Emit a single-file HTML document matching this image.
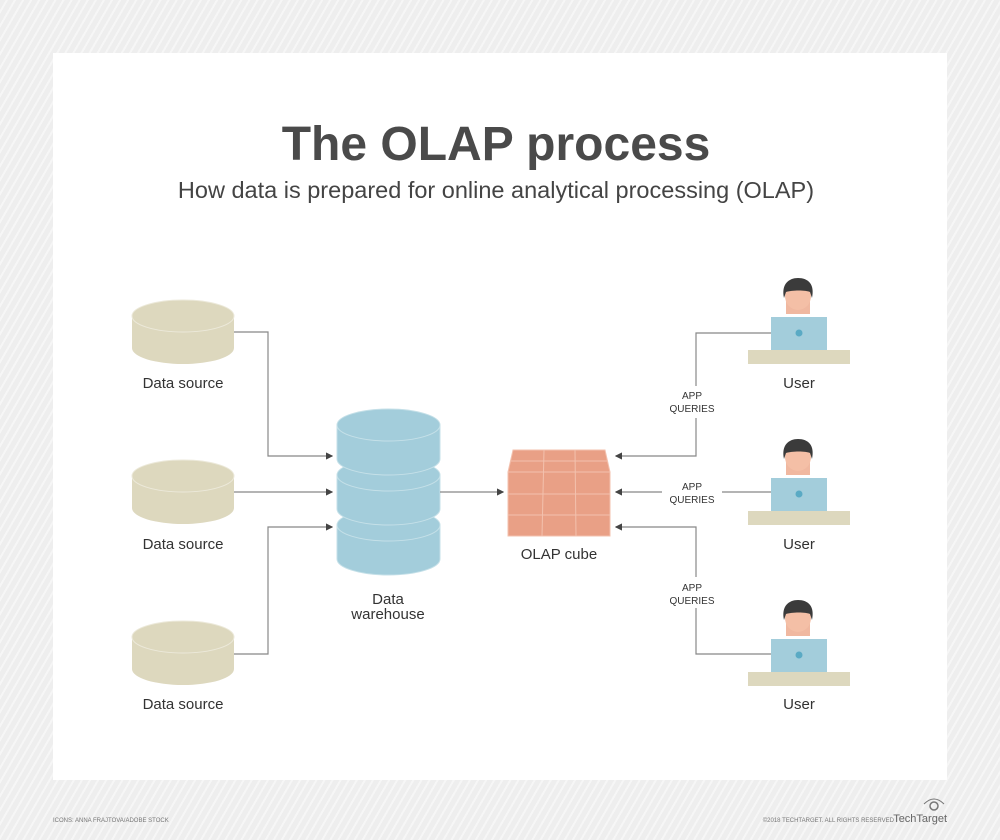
<!DOCTYPE html>
<html><head><meta charset="utf-8"><style>
html,body{margin:0;padding:0;}
body{width:1000px;height:840px;position:relative;overflow:hidden;font-family:"Liberation Sans",sans-serif;
background:#eeeeee repeating-linear-gradient(-60deg,#eeeeee 0,#eeeeee 5px,#f6f6f6 5px,#f6f6f6 7px);}
</style></head><body>
<svg width="1000" height="840" style="position:absolute;left:0;top:0" font-family="Liberation Sans, sans-serif">
<rect x="53" y="53" width="894" height="727" fill="#fff"/>
<text x="496" y="160" text-anchor="middle" font-size="48" font-weight="bold" fill="#4a4a4a">The OLAP process</text>
<text x="496" y="198" text-anchor="middle" font-size="23.5" fill="#444">How data is prepared for online analytical processing (OLAP)</text>
<defs>
<g id="src">
<path d="M132,316 v32 a51,16 0 0 0 102,0 v-32z" fill="#ddd8be"/>
<ellipse cx="183" cy="316" rx="51" ry="16" fill="#ddd8be" stroke="#ece9da" stroke-width="1"/>
</g>
<g id="tier">
<path d="M337,425 v34 a51.5,16 0 0 0 103,0 v-34z" fill="#a3cddb" stroke="#c5e0e8" stroke-width="1"/>
<ellipse cx="388.5" cy="425" rx="51.5" ry="16" fill="#a3cddb" stroke="#c5e0e8" stroke-width="1"/>
</g>
<g id="user">
<path d="M786,300 h24 v14 h-24z" fill="#f0b8a0"/>
<ellipse cx="798" cy="296" rx="13" ry="14" fill="#f4bfa6"/>
<path d="M784,298 c-3,-14 5,-20 14,-20 c10,0 17,6 14,20 l-2,-6 c-4,-2 -18,-2 -24,0z" fill="#3b3b3b"/>
<rect x="771" y="317" width="56" height="34" fill="#a3cddb"/>
<circle cx="799" cy="333" r="3.5" fill="#5aaac4"/>
<rect x="748" y="350" width="102" height="14" fill="#ddd8be"/>
</g>
<marker id="ar" markerWidth="6" markerHeight="6" refX="5" refY="3" orient="auto"><path d="M0,0 L6,3 L0,6z" fill="#444"/></marker>
</defs>
<use href="#src"/><use href="#src" y="160"/><use href="#src" y="321"/>
<g font-size="15" fill="#333" text-anchor="middle">
<text x="183" y="388">Data source</text><text x="183" y="549">Data source</text><text x="183" y="709">Data source</text>
<text x="388" y="604">Data</text><text x="388" y="619">warehouse</text>
<text x="559" y="559">OLAP cube</text>
<text x="799" y="388">User</text><text x="799" y="549">User</text><text x="799" y="709">User</text>
</g>
<use href="#tier" y="100"/><use href="#tier" y="50"/><use href="#tier"/>
<!-- cube -->
<path d="M513,450 h92 l5,22 h-102z" fill="#e9a086" stroke="#f3c1ae" stroke-width="1"/>
<rect x="508" y="472" width="102" height="64" fill="#e9a086" stroke="#f3c1ae" stroke-width="1"/>
<g stroke="#f3c1ae" stroke-width="1">
<line x1="510" y1="461" x2="608" y2="461"/><line x1="544" y1="450" x2="542" y2="536"/><line x1="575" y1="450" x2="576" y2="536"/>
<line x1="508" y1="494" x2="610" y2="494"/><line x1="508" y1="515" x2="610" y2="515"/>
</g>
<use href="#user"/><use href="#user" y="161"/><use href="#user" y="322"/>
<g stroke="#888" stroke-width="1.2" fill="none">
<path d="M234,332 H268 V456 H332" marker-end="url(#ar)"/>
<path d="M234,492 H332" marker-end="url(#ar)"/>
<path d="M234,654 H268 V527 H332" marker-end="url(#ar)"/>
<path d="M440,492 H503" marker-end="url(#ar)"/>
<path d="M771,333 H696 V386"/>
<path d="M696,418 V456 H616" marker-end="url(#ar)"/>
<path d="M771,492 H722"/>
<path d="M662,492 H616" marker-end="url(#ar)"/>
<path d="M771,654 H696 V608"/>
<path d="M696,577 V527 H616" marker-end="url(#ar)"/>
</g>
<g font-size="10" fill="#333" text-anchor="middle">
<text x="692" y="399">APP</text><text x="692" y="412">QUERIES</text>
<text x="692" y="490">APP</text><text x="692" y="503">QUERIES</text>
<text x="692" y="591">APP</text><text x="692" y="604">QUERIES</text>
</g>
<text x="53" y="822" font-size="6" fill="#777">ICONS: ANNA FRAJTOVA/ADOBE STOCK</text>
<text x="894" y="822" font-size="6" fill="#777" text-anchor="end">©2018 TECHTARGET. ALL RIGHTS RESERVED</text>
<text x="947" y="822" font-size="11" fill="#666" text-anchor="end">TechTarget</text>
<circle cx="934" cy="806" r="4" fill="none" stroke="#777" stroke-width="1.5"/>
<path d="M924,804 q10,-10 20,0" fill="none" stroke="#777"/>
</svg>
</body></html>
